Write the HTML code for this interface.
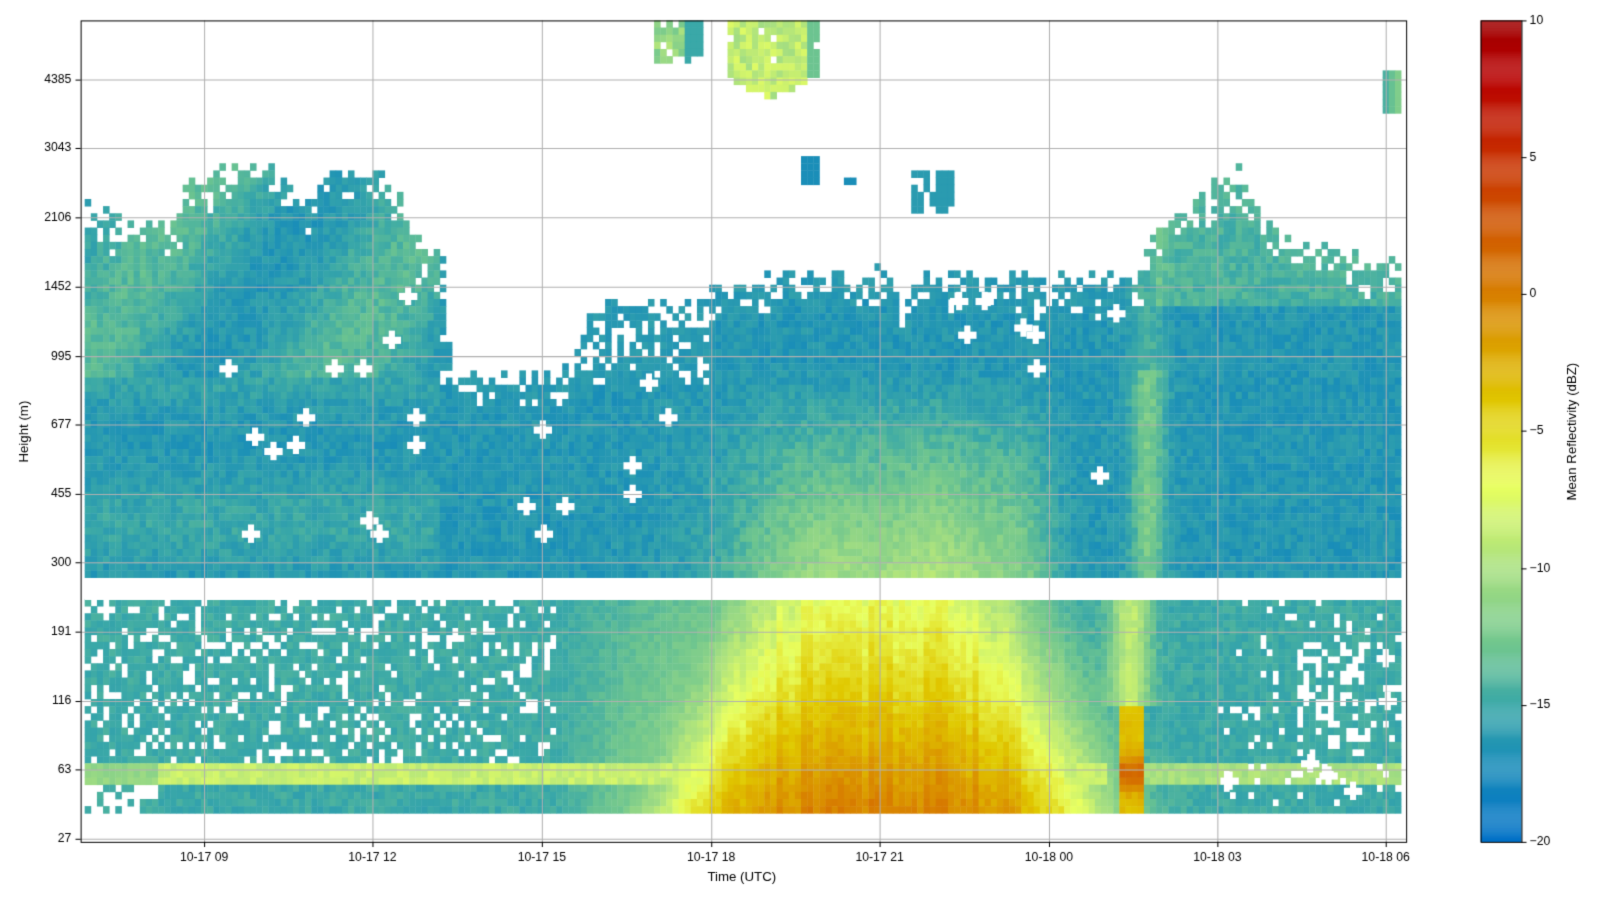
<!DOCTYPE html>
<html><head><meta charset="utf-8"><style>
html,body{margin:0;padding:0;background:#fff;width:1600px;height:900px;overflow:hidden;}
canvas{position:absolute;left:0;top:0;display:block}
</style></head><body>
<canvas id="c" width="1600" height="900"></canvas>
<script>
const c=document.getElementById('c'),g=c.getContext('2d');
g.fillStyle='#fff';g.fillRect(0,0,1600,900);
const S=1600/1568;g.setTransform(S,0,0,S,0,0);
const stops=[[-20,[0,112,200]],[-17,[26,142,184]],[-15,[58,168,168]],[-13,[108,196,144]],[-10,[168,224,128]],[-7,[232,255,96]],[-4,[224,200,0]],[0,[216,128,0]],[5,[200,48,0]],[8,[184,0,0]],[10,[160,0,0]]];
function col(v){v=Math.max(-20,Math.min(10,v));for(let i=0;i<stops.length-1;i++){const a=stops[i],b=stops[i+1];if(v<=b[0]){const t=(v-a[0])/(b[0]-a[0]);return 'rgb('+a[1].map((x,k)=>Math.round(x+(b[1][k]-x)*t)).join(',')+')';}}return 'rgb(160,0,0)';}
function h(i,j){let n=i*374761393+j*668265263;n=(n^(n>>13))*1274126177;n=n^(n>>16);return ((n>>>0)%10000)/10000;}
function gs(x,m,s){return Math.exp(-((x-m)*(x-m))/(2*s*s));}
function cl(t){return Math.max(0,Math.min(1,t));}
function lerpTop(x,pts){for(let i=0;i<pts.length-1;i++){if(x<=pts[i+1][0]){const t=(x-pts[i][0])/(pts[i+1][0]-pts[i][0]);return pts[i][1]+(pts[i+1][1]-pts[i][1])*t;}}return pts[pts.length-1][1];}
const tops=[[83,200],[100,215],[170,215],[180,185],[230,160],[260,160],[300,195],[320,170],[360,165],[390,190],[400,235],[430,250],[440,370],[545,370],[560,345],[580,300],[690,295],[700,285],[760,270],[870,270],[880,315],[895,270],[1110,275],[1120,240],[1140,210],[1190,180],[1215,170],[1235,210],[1260,235],[1300,245],[1372,260]];
const X0=83,X1=1372,cw=6,ch=7;
for(let x=X0;x<X1;x+=cw){
 const i=Math.round(x/cw);
 const sx=h(i,999)-0.5;
 for(let y=20;y<800;y+=ch){
  const j=Math.round(y/ch);const r=h(i,j),r2=h(i+7,j*3+1);
  const yc=y+ch/2;let v=null;const xc=x+3;
  const tp=lerpTop(x,tops)+(r2-0.5)*20;
  if(yc>=150&&yc<567&&yc>=tp){
   if(yc-tp<30&&r<0.3)continue;
   if(x>430&&x<700&&yc<380&&r<0.35)continue;
   v=-16.3+(r-0.5)*1.6;
   if(x<430&&yc<370)v+=2.5*(0.5+0.5*Math.sin(x/40+yc/60));
   if(x<430&&yc>=370)v+=1.2*(0.5+0.5*Math.sin(yc/25));
   if(x>1130&&yc<300)v+=2;
   const ramp=cl((yc-360)/200);
   v+=7*ramp*(0.8*gs(x,810,70)+0.7*gs(x,930,45)+0.4*gs(x,1000,25));
   v+=4*gs(x,1122,12)*(yc>360?1:0.5);
  } else if(yc>=588&&yc<797){
   if(x<540&&yc<745&&r<0.2)continue;
   if(x<150&&yc>770&&r<0.5)continue;
   if(x>1190&&yc<790&&r<0.1)continue;
   if(x>1270&&x<1340&&yc>600&&yc<740&&r<0.35)continue;
   v=-15+(r-0.5)*1.6;
   const d=(yc-588)/209;
   const vc=-7+6.8*Math.pow(d,1.2);
   const s=150+70*d;
   const w=Math.exp(-Math.pow((xc-862)/s,4));
   let vb=-15+(vc+15)*w+(r-0.5)*1.2+1.6*sx*w;
   v=Math.max(v,vb);
   if(xc>540&&xc<720)v=Math.max(v,-15+6*cl((xc-540)/170)*(0.4+0.6*d)+(r-0.5));
   if(yc>745&&yc<772&&x<1080)v=Math.max(v,(x<150?-11:-8.5)+(r-0.5)*1.5);
   if(yc>745&&yc<772&&x>1120)v=Math.max(v,-10+(r-0.5)*1.5);
   v+=6*gs(x,1105,14)*(yc<690?1:0);
   if(x>1092&&x<1118&&yc>=690)v=-3.5+5*gs(yc,758,12)+(r-0.5);
  } else if(yc<120){
   let ok=false;
   if(x>636&&x<686&&yc<65&&r>0.15){ok=true;v=-11+(r-0.5)*4;if(x>665)v=-15;}
   if(x>710&&x<802&&yc<98-Math.abs(x-752)*0.5&&r>0.05){ok=true;v=-9+(r-0.5)*3;if(x>785)v=-13;}
   if(x>1350&&yc>68&&yc<113){ok=true;v=-11-(1372-x)/5;}
   if(!ok)continue;
  } else {
   let ok=false;
   if(x>780&&x<800&&yc>155&&yc<180){ok=true;v=-17;}
   if(x>890&&x<930&&yc>168&&yc<210&&r>0.3){ok=true;v=-16;}
   if(x>825&&x<835&&yc>175&&yc<182){ok=true;v=-17;}
   if(!ok)continue;
  }
  g.fillStyle=col(v);g.fillRect(x,y,cw+0.4,ch+0.4);
 }
}
const cr=[[224,361],[250,428],[268,442],[290,436],[300,409],[328,361],[356,361],[246,523],[362,510],[372,523],[384,333],[408,409],[408,436],[532,421],[516,496],[533,523],[554,496],[620,456],[620,484],[636,375],[655,409],[948,328],[1003,321],[1015,328],[1016,361],[1094,307],[1078,466],[1358,645],[1360,687],[1284,748],[1302,760],[1326,775],[1205,765],[400,290],[940,295],[965,295]];
g.fillStyle='#fff';
for(const[a,b]of cr){g.fillRect(a-9,b-3,18,7);g.fillRect(a-3,b-9,6,18);}
g.fillRect(X0,567,1300,21);
g.strokeStyle='#b0b0b0';g.lineWidth=1;
const xt=[200,365,531,697,862,1028,1193,1358],yt=[78,145,213,281,349,416,484,551,619,687,754,822];
for(const x of xt){g.beginPath();g.moveTo(x+.5,20);g.lineTo(x+.5,825);g.stroke();}
for(const y of yt){g.beginPath();g.moveTo(79,y+.5);g.lineTo(1378,y+.5);g.stroke();}
g.strokeStyle='#000';g.strokeRect(79.5,20.5,1299,805);
for(const x of xt){g.beginPath();g.moveTo(x+.5,825);g.lineTo(x+.5,830);g.stroke();}
for(const y of yt){g.beginPath();g.moveTo(79,y+.5);g.lineTo(74,y+.5);g.stroke();}
for(let y=20;y<825;y++){g.fillStyle=col(10-30*(y-20)/805);g.fillRect(1451,y,40,1.2);}
g.strokeRect(1451.5,20.5,40,805);
const ct=[[10,20],[5,154],[0,288],[-5,422],[-10,557],[-15,691],[-20,825]];
for(const[v,y]of ct){g.beginPath();g.moveTo(1491,y+.5);g.lineTo(1496,y+.5);g.stroke();}
g.fillStyle='#000';g.font='12px "Liberation Sans",sans-serif';
g.textAlign='center';g.textBaseline='top';
const xl=['10-17 09','10-17 12','10-17 15','10-17 18','10-17 21','10-18 00','10-18 03','10-18 06'];
xt.forEach((x,k)=>g.fillText(xl[k],x,834));
g.font='13px "Liberation Sans",sans-serif';g.fillText('Time (UTC)',727,853);
g.font='12px "Liberation Sans",sans-serif';g.textAlign='right';g.textBaseline='middle';
const yl=['4385','3043','2106','1452','995','677','455','300','191','116','63','27'];
yt.forEach((y,k)=>g.fillText(yl[k],70,y));
g.textAlign='left';
for(const[v,y]of ct)g.fillText(v<0?'\u2212'+(-v):''+v,1499,y);
g.save();g.translate(24,423);g.rotate(-Math.PI/2);g.textAlign='center';g.font='13px "Liberation Sans",sans-serif';g.fillText('Height (m)',0,0);g.restore();
g.save();g.translate(1541,423);g.rotate(-Math.PI/2);g.textAlign='center';g.font='13px "Liberation Sans",sans-serif';g.fillText('Mean Reflectivity (dBZ)',0,0);g.restore();
</script>
</body></html>
